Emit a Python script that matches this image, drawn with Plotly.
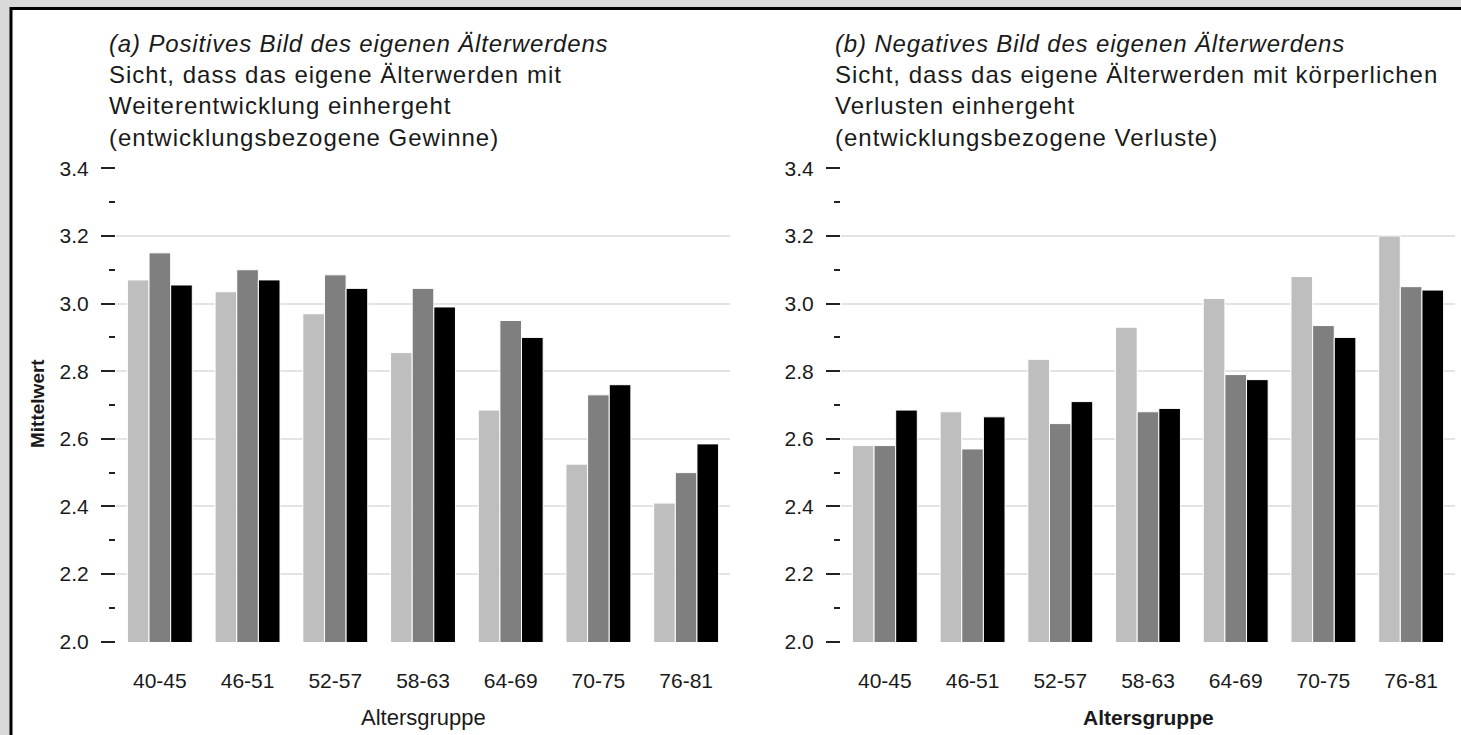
import plotly.graph_objects as go

# ---------------- data ----------------
categories = ["40-45", "46-51", "52-57", "58-63", "64-69", "70-75", "76-81"]
series_names = ["Gruppe 1", "Gruppe 2", "Gruppe 3"]
series_colors = ["#bebebe", "#7f7f7f", "#000000"]

pos_light = [3.07, 3.035, 2.97, 2.855, 2.685, 2.525, 2.41]
pos_mid = [3.15, 3.10, 3.085, 3.045, 2.95, 2.73, 2.50]
pos_dark = [3.055, 3.07, 3.045, 2.99, 2.90, 2.76, 2.585]

neg_light = [2.58, 2.68, 2.835, 2.93, 3.015, 3.08, 3.20]
neg_mid = [2.58, 2.57, 2.645, 2.68, 2.79, 2.935, 3.05]
neg_dark = [2.685, 2.665, 2.71, 2.69, 2.775, 2.90, 3.04]

title_a = ["(a) Positives Bild des eigenen Älterwerdens",
           "Sicht, dass das eigene Älterwerden mit",
           "Weiterentwicklung einhergeht",
           "(entwicklungsbezogene Gewinne)"]
title_b = ["(b) Negatives Bild des eigenen Älterwerdens",
           "Sicht, dass das eigene Älterwerden mit körperlichen",
           "Verlusten einhergeht",
           "(entwicklungsbezogene Verluste)"]
y_title = "Mittelwert"
x_title = "Altersgruppe"

# ---------------- layout geometry (pixels) ----------------
W, H = 1461, 735
L, R, T, B = 116, 6, 168, 93
PW = W - L - R
PH = H - T - B

def px(xp):
    return (xp - L) / PW

def py(yp):
    return (H - B - yp) / PH

FONT = "Liberation Sans, Arial, sans-serif"
TXT = "#1a1a1a"

fig = go.Figure()

left_sets = [pos_light, pos_mid, pos_dark]
right_sets = [neg_light, neg_mid, neg_dark]
for name, col, vals in zip(series_names, series_colors, left_sets):
    fig.add_trace(go.Bar(x=categories, y=vals, name=name, marker_color=col,
                         marker_line=dict(color="white", width=1),
                         xaxis="x", yaxis="y", showlegend=False))
for name, col, vals in zip(series_names, series_colors, right_sets):
    fig.add_trace(go.Bar(x=categories, y=vals, name=name, marker_color=col,
                         marker_line=dict(color="white", width=1),
                         xaxis="x2", yaxis="y2", showlegend=False))

yaxis_common = dict(
    range=[1.999, 3.401], tick0=2.0, dtick=0.2, tickformat=".1f",
    ticks="outside", ticklen=14, tickwidth=2, tickcolor="#222222",
    showgrid=True, gridcolor="#e4e4e4", gridwidth=2,
    showline=False, zeroline=False,
    tickfont=dict(family=FONT, size=21, color=TXT),
    ticklabelstandoff=8,
    minor=dict(dtick=0.1, tick0=2.0, ticks="outside", ticklen=6,
               tickwidth=2, tickcolor="#222222", showgrid=False),
)
xaxis_common = dict(
    type="category", range=[-0.5, 6.5], showgrid=False, showline=False,
    zeroline=False, ticks="",
    tickfont=dict(family=FONT, size=21, color=TXT),
    ticklabelstandoff=24,
)

d1 = [0, px(730)]
d2 = [px(841), 1.0]

fig.update_layout(
    width=W, height=H,
    margin=dict(l=L, r=R, t=T, b=B, pad=0),
    paper_bgcolor="#d9d9d9",
    plot_bgcolor="white",
    barmode="group", bargap=0.26, bargroupgap=0,
    xaxis=dict(domain=d1, anchor="y", **xaxis_common),
    xaxis2=dict(domain=d2, anchor="y2", **xaxis_common),
    yaxis=dict(domain=[0, 1], anchor="x", **yaxis_common),
    yaxis2=dict(domain=[0, 1], anchor="x2", **yaxis_common),
    font=dict(family=FONT, color=TXT),
    showlegend=False,
)

# white frame with black border (top and left edges visible)
fig.add_shape(type="rect", xref="paper", yref="paper",
              x0=px(11), x1=px(1500), y0=py(780), y1=py(8.5),
              fillcolor="white", line=dict(color="black", width=3),
              layer="below")

def title_text(lines):
    out = ['<span style="letter-spacing:0.85px"><i>%s</i></span>' % lines[0]]
    out += ['<span style="letter-spacing:1px">%s</span>' % ln for ln in lines[1:]]
    return "<br>".join(out)

fig.add_annotation(xref="paper", yref="paper", x=px(107), y=py(28),
                   xanchor="left", yanchor="top", align="left", showarrow=False,
                   text=title_text(title_a),
                   font=dict(family=FONT, size=24, color=TXT))
fig.add_annotation(xref="paper", yref="paper", x=px(833), y=py(28),
                   xanchor="left", yanchor="top", align="left", showarrow=False,
                   text=title_text(title_b),
                   font=dict(family=FONT, size=24, color=TXT))

# axis titles
fig.add_annotation(xref="paper", yref="paper", x=px(37), y=py(404),
                   xanchor="center", yanchor="middle", showarrow=False,
                   textangle=-90, text="<b>" + y_title + "</b>",
                   font=dict(family=FONT, size=19, color=TXT))
fig.add_annotation(xref="paper", yref="paper", x=px(423), y=py(717),
                   xanchor="center", yanchor="middle", showarrow=False,
                   text=x_title, font=dict(family=FONT, size=22, color=TXT))
fig.add_annotation(xref="paper", yref="paper", x=px(1148), y=py(717),
                   xanchor="center", yanchor="middle", showarrow=False,
                   text="<b>" + x_title + "</b>",
                   font=dict(family=FONT, size=21, color=TXT))

fig.write_html("out.html")
